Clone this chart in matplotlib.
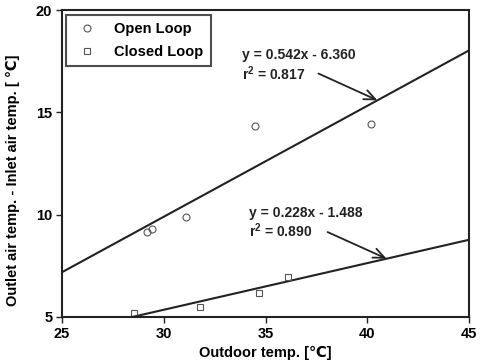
import numpy as np
import matplotlib.pyplot as plt

plt.rcParams['font.family'] = ['Liberation Sans', 'DejaVu Sans']
plt.rcParams['font.weight'] = 'bold'
plt.rcParams['mathtext.fontset'] = 'custom'
plt.rcParams['mathtext.rm'] = 'Liberation Sans:bold'
plt.rcParams['mathtext.it'] = 'Liberation Sans:bold'

# measured temperature differences
open_x = [29.15, 29.4, 31.1, 34.5, 40.2]
open_y = [9.15, 9.3, 9.9, 14.35, 14.45]
closed_x = [28.55, 31.8, 34.7, 36.1]
closed_y = [5.2, 5.5, 6.15, 6.95]

# linear fits
open_fit = (0.542, -6.360, 0.817)
closed_fit = (0.228, -1.488, 0.890)

x_ticks = [25, 30, 35, 40, 45]
y_ticks = [5, 10, 15, 20]

fig = plt.figure(figsize=(4.85, 3.61), dpi=100)
ax = fig.add_axes([0.128, 0.122, 0.839, 0.850])

ink = '#222222'
mk = '#555555'

xx = np.linspace(25, 45, 50)
ax.plot(xx, open_fit[0] * xx + open_fit[1], color=ink, lw=1.5)
ax.plot(xx, closed_fit[0] * xx + closed_fit[1], color=ink, lw=1.5)

ax.plot(open_x, open_y, 'o', ms=5, mfc='none', mec=mk, mew=0.8, label='Open Loop', clip_on=False)
ax.plot(closed_x, closed_y, 's', ms=5, mfc='none', mec=mk, mew=0.8, label='Closed Loop', clip_on=False)

ax.set_xlim(25, 45)
ax.set_ylim(5, 20)
ax.set_xticks(x_ticks)
ax.set_yticks(y_ticks)
ax.tick_params(direction='out', length=4, width=1, color=ink, labelsize=10.5, pad=3)
for s in ax.spines.values():
    s.set_linewidth(1.5)
    s.set_color(ink)

ax.set_xlabel('Outdoor temp. [\u2103]', fontsize=10.5, fontweight='bold', labelpad=4)
ax.set_ylabel('Outlet air temp. - Inlet air temp. [ \u2103]', fontsize=10.5, fontweight='bold')
ax.yaxis.set_label_coords(-0.103, 0.446)

# fit equations with arrows to the lines
for fit, txt_xy, start, end_x in [(open_fit, (33.86, 17.29), (37.6, 16.9), 40.5),
                                  (closed_fit, (34.2, 9.61), (38.05, 9.15), 40.95)]:
    a, b, r2 = fit
    ax.text(txt_xy[0], txt_xy[1], 'y = %.3fx - %.3f\nr$^2$ = %.3f' % (a, -b, r2),
            fontsize=10, fontweight='bold', ha='left', va='center', color=ink,
            linespacing=1.1)
    ax.annotate('', xy=(end_x, a * end_x + b), xytext=start,
                arrowprops=dict(arrowstyle='->,head_length=0.8,head_width=0.35',
                                color=ink, lw=1.3, shrinkA=0, shrinkB=0))

leg = ax.legend(loc='upper left', bbox_to_anchor=(0.01, 0.984), frameon=True,
                fancybox=False, edgecolor=ink, fontsize=10.5, borderpad=0.5,
                handletextpad=0.9, labelspacing=0.6, handlelength=1.9,
                borderaxespad=0, numpoints=1)
leg.get_frame().set_linewidth(1.5)

fig.savefig('out.png', dpi=100)
